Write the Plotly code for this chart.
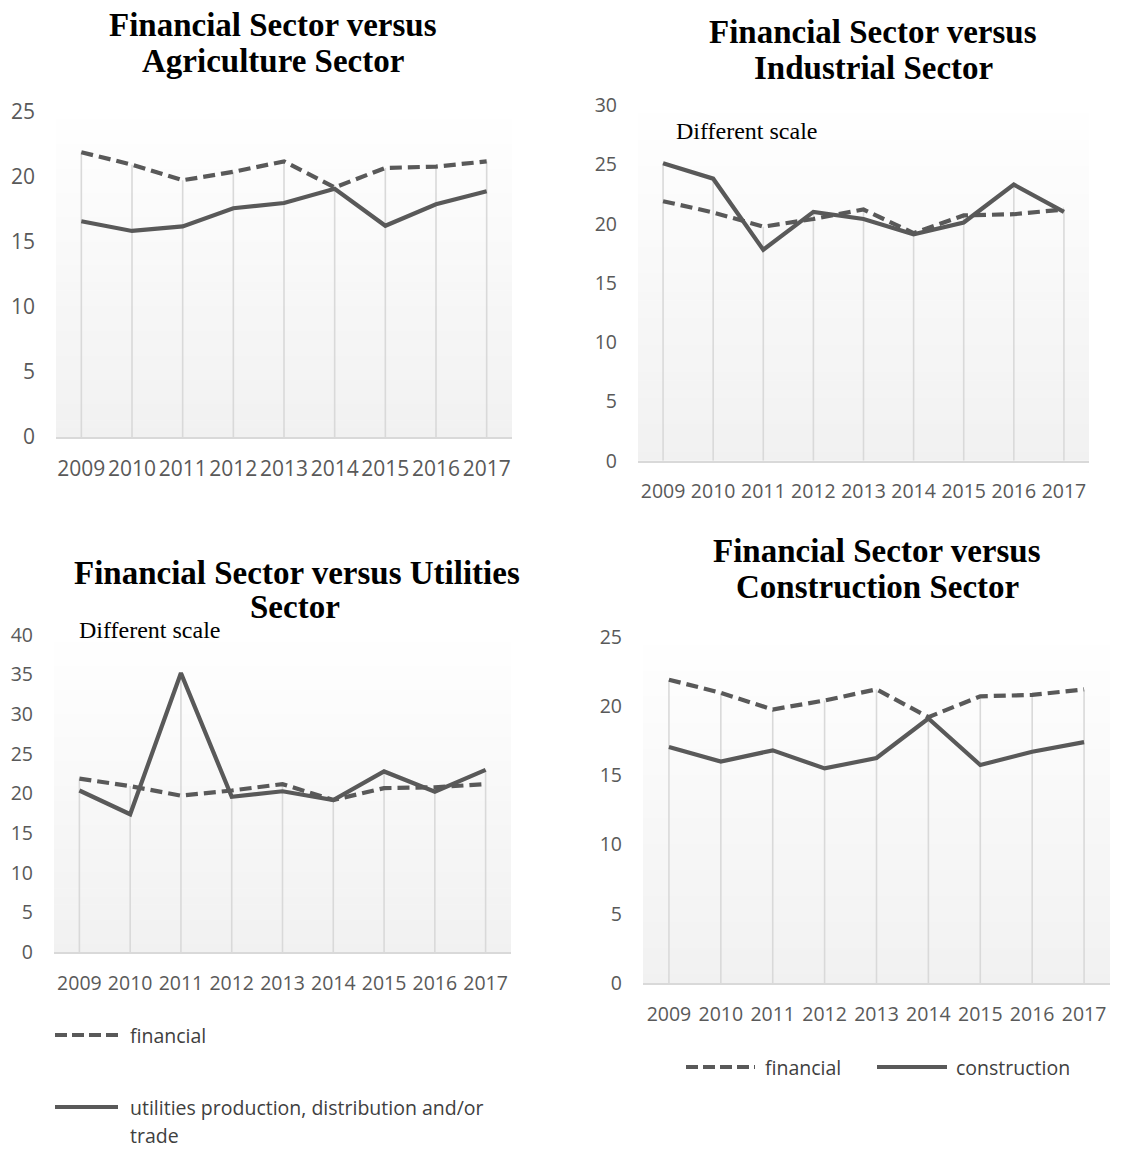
import plotly.graph_objects as go

# ---- data -------------------------------------------------------------
years = ["2009", "2010", "2011", "2012", "2013", "2014", "2015", "2016", "2017"]

financial = [21.9, 20.95, 19.75, 20.4, 21.2, 19.2, 20.7, 20.8, 21.2]
agriculture = [16.6, 15.85, 16.2, 17.6, 18.0, 19.1, 16.25, 17.9, 18.9]
industrial = [25.1, 23.8, 17.8, 21.0, 20.4, 19.1, 20.1, 23.3, 21.0]
utilities = [20.4, 17.4, 35.2, 19.6, 20.3, 19.2, 22.8, 20.25, 23.0]
construction = [17.05, 16.0, 16.8, 15.5, 16.25, 19.1, 15.75, 16.7, 17.4]

y_ticks_25 = [0, 5, 10, 15, 20, 25]
y_ticks_30 = [0, 5, 10, 15, 20, 25, 30]
y_ticks_40 = [0, 5, 10, 15, 20, 25, 30, 35, 40]

legend_financial = "financial"
legend_utilities = "utilities production, distribution and/or<br>trade"
legend_construction = "construction"

# ---- page geometry (pixels) ------------------------------------------
W, H = 1145, 1150
LINE = "#595959"
GRID = "#d9d9d9"
TICK_FONT = "Open Sans, Noto Sans, sans-serif"
TITLE_FONT = "Liberation Serif, Times New Roman, serif"


def fx(px):
    return px / W


def fy(py):
    return 1 - py / H


# panel: plot-area edges in pixels, y maximum, tick values, tick font size, compared series
panels = [
    dict(x0=56, x1=512, yt=112, yb=437, ymax=25, ticks=y_ticks_25, fs=21, other=agriculture),
    dict(x0=638, x1=1089, yt=105.2, yb=460.7, ymax=30, ticks=y_ticks_30, fs=19.5, other=industrial),
    dict(x0=54, x1=511, yt=635, yb=952.3, ymax=40, ticks=y_ticks_40, fs=19.5, other=utilities),
    dict(x0=643, x1=1110, yt=636.7, yb=983.3, ymax=25, ticks=y_ticks_25, fs=19.5, other=construction),
]

fig = go.Figure()
shapes = []
annotations = []

for i, p in enumerate(panels, start=1):
    xa = "x" if i == 1 else f"x{i}"
    ya = "y" if i == 1 else f"y{i}"

    # drop lines from the higher series down to the category axis
    dx, dy = [], []
    for yr, a, b in zip(years, financial, p["other"]):
        dx += [yr, yr, None]
        dy += [0, max(a, b), None]
    fig.add_trace(go.Scatter(x=dx, y=dy, mode="lines", xaxis=xa, yaxis=ya,
                             line=dict(color=GRID, width=1.6), showlegend=False,
                             hoverinfo="skip"))
    fig.add_trace(go.Scatter(x=years, y=financial, mode="lines", xaxis=xa, yaxis=ya,
                             line=dict(color=LINE, width=4.2, dash="12px,6px"),
                             name=legend_financial, showlegend=False))
    fig.add_trace(go.Scatter(x=years, y=p["other"], mode="lines", xaxis=xa, yaxis=ya,
                             line=dict(color=LINE, width=4.2),
                             showlegend=False))

    fig.update_layout(**{
        ("xaxis" if i == 1 else f"xaxis{i}"): dict(
            domain=[fx(p["x0"]), fx(p["x1"])], anchor=ya, type="category",
            categoryorder="array", categoryarray=years, range=[-0.5, 8.5],
            showline=True, linecolor=GRID, linewidth=1.6, showgrid=False,
            zeroline=False, ticks="", ticklabelstandoff=12, automargin=False,
            tickfont=dict(family=TICK_FONT, size=p["fs"], color=LINE)),
        ("yaxis" if i == 1 else f"yaxis{i}"): dict(
            domain=[fy(p["yb"]), fy(p["yt"])], anchor=xa, range=[0, p["ymax"]],
            tickvals=p["ticks"], showline=False, showgrid=False, zeroline=False,
            ticks="", ticklabelstandoff=20, automargin=False,
            tickfont=dict(family=TICK_FONT, size=p["fs"], color=LINE)),
    })

    # vertical white-to-grey gradient behind the plot area
    n = 40
    for k in range(n):
        t = (k + 0.5) / n
        c = round(255 - (255 - 241) * t)
        y_top = p["yt"] + (p["yb"] - p["yt"]) * k / n
        y_bot = p["yt"] + (p["yb"] - p["yt"]) * (k + 1) / n
        shapes.append(dict(type="rect", xref="paper", yref="paper", layer="below",
                           x0=fx(p["x0"]), x1=fx(p["x1"]), y0=fy(y_bot), y1=fy(y_top) + 0.0005,
                           line=dict(width=0), fillcolor=f"rgb({c},{c},{c})"))


def title(text, cx, cy, size=33):
    annotations.append(dict(text=f"<b>{text}</b>", x=fx(cx), y=fy(cy), xref="paper", yref="paper",
                            xanchor="center", yanchor="middle", showarrow=False,
                            font=dict(family=TITLE_FONT, size=size, color="black")))


def note(text, lx, cy, size=24):
    annotations.append(dict(text=text, x=fx(lx), y=fy(cy), xref="paper", yref="paper",
                            xanchor="left", yanchor="middle", showarrow=False,
                            font=dict(family=TITLE_FONT, size=size, color="black")))


def legend_item(text, lx0, lx1, cy, dashed, tx, line_gap=28):
    shapes.append(dict(type="line", xref="paper", yref="paper", x0=fx(lx0), x1=fx(lx1),
                       y0=fy(cy), y1=fy(cy),
                       line=dict(color=LINE, width=4.2, dash="12px,5px" if dashed else "solid")))
    for j, part in enumerate(text.split("<br>")):
        annotations.append(dict(text=part, x=fx(tx), y=fy(cy + j * line_gap),
                                xref="paper", yref="paper", xanchor="left", yanchor="middle",
                                showarrow=False, align="left",
                                font=dict(family=TICK_FONT, size=19.5, color="#404040")))


title("Financial Sector versus", 273, 25)
title("Agriculture Sector", 273, 61)
title("Financial Sector versus", 873, 32)
title("Industrial Sector", 873, 68)
title("Financial Sector versus Utilities", 297, 573)
title("Sector", 295, 607)
title("Financial Sector versus", 877, 551)
title("Construction Sector", 877, 587)

note("Different scale", 674, 131)
note("Different scale", 77, 630)

legend_item(legend_financial, 55, 118, 1035, True, 128)
legend_item(legend_utilities, 55, 118, 1107, False, 128)
legend_item(legend_financial, 686, 755, 1067, True, 763)
legend_item(legend_construction, 877, 947, 1067, False, 954)

fig.update_layout(width=W, height=H, margin=dict(l=0, r=0, t=0, b=0),
                  paper_bgcolor="white", plot_bgcolor="rgba(0,0,0,0)",
                  showlegend=False, shapes=shapes, annotations=annotations)

fig.write_html("out.html")
